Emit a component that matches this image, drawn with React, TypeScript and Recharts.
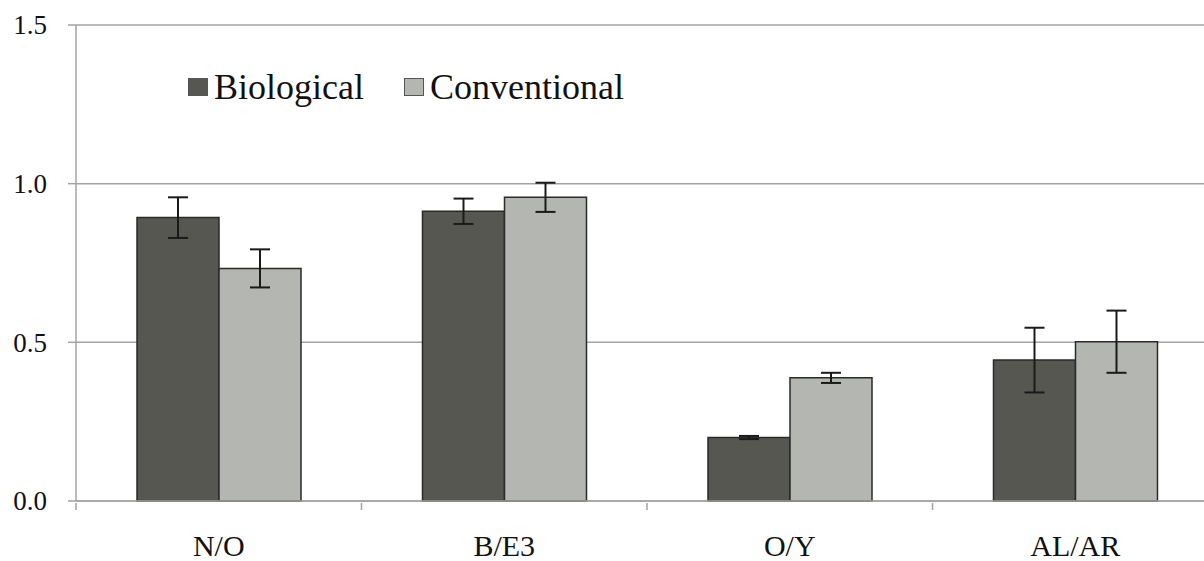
import React from 'react';
import {
  ComposedChart,
  Bar,
  ErrorBar,
  XAxis,
  YAxis,
  CartesianGrid,
} from 'recharts';

const categories = ['N/O', 'B/E3', 'O/Y', 'AL/AR'];
const biological = [0.893, 0.913, 0.2, 0.444];
const biologicalErr = [0.064, 0.04, 0.005, 0.102];
const conventional = [0.733, 0.957, 0.388, 0.502];
const conventionalErr = [0.06, 0.046, 0.016, 0.098];
const yTicks = [0, 0.5, 1.0, 1.5];

const seriesInfo = [
  { name: 'Biological', color: '#575752' },
  { name: 'Conventional', color: '#b4b6b2' },
];

const chartData = categories.map((cat, i) => ({
  cat,
  bio: biological[i],
  bioErr: biologicalErr[i],
  conv: conventional[i],
  convErr: conventionalErr[i],
}));

const FONT = 'Liberation Serif';
const AXIS = '#a3a3a3';

function CategoryTick(props: any) {
  const { x, y, payload } = props;
  const off = payload.offset || 0;
  return (
    <g>
      <line x1={x - off} y1={y - 6} x2={x - off} y2={y + 1} stroke={AXIS} strokeWidth={1.5} />
      <text
        x={x}
        y={y + 26}
        dy="0.71em"
        textAnchor="middle"
        fill="#111"
        style={{ fontFamily: FONT, fontSize: 30 }}
      >
        {payload.value}
      </text>
    </g>
  );
}

function ValueTick(props: any) {
  const { x, y, payload } = props;
  return (
    <text
      x={x}
      y={y}
      dy="0.35em"
      textAnchor="end"
      fill="#111"
      style={{ fontFamily: FONT, fontSize: 27 }}
    >
      {Number(payload.value).toFixed(1)}
    </text>
  );
}

function LegendBox() {
  return (
    <div
      style={{
        position: 'absolute',
        left: 188,
        top: 69,
        display: 'flex',
        alignItems: 'center',
        fontFamily: FONT,
        fontSize: 36,
        color: '#111',
      }}
    >
      {seriesInfo.map((s, i) => (
        <div key={s.name} style={{ display: 'flex', alignItems: 'center', marginRight: i === 0 ? 40 : 0 }}>
          <span
            style={{
              display: 'inline-block',
              width: 20,
              height: 18,
              background: s.color,
              border: '1px solid #555',
              marginRight: 6,
              boxSizing: 'border-box',
            }}
          />
          <span style={{ lineHeight: 1 }}>{s.name}</span>
        </div>
      ))}
    </div>
  );
}

export default function App() {
  return (
    <div
      style={{
        position: 'fixed',
        left: 0,
        top: 0,
        width: 1204,
        height: 561,
        overflow: 'hidden',
        background: '#fff',
      }}
    >
      <ComposedChart
        width={1230}
        height={561}
        data={chartData}
        margin={{ top: 25, right: 12, bottom: 0, left: 0 }}
        barCategoryGap={61}
        barGap={0}
      >
        <CartesianGrid vertical={false} stroke={AXIS} strokeWidth={1.5} />
        <XAxis
          dataKey="cat"
          height={60}
          axisLine={{ stroke: AXIS, strokeWidth: 1.5 }}
          tickLine={false}
          tick={<CategoryTick />}
          interval={0}
        />
        <YAxis
          width={76}
          domain={[0, 1.5]}
          ticks={yTicks}
          axisLine={{ stroke: AXIS, strokeWidth: 1.5 }}
          tickLine={{ stroke: AXIS, strokeWidth: 1.5 }}
          tickSize={8}
          tickMargin={21}
          tick={<ValueTick />}
        />
        <Bar dataKey="bio" name="Biological" fill={seriesInfo[0].color} stroke="#2a2a2a" strokeWidth={1.5} isAnimationActive={false}>
          <ErrorBar dataKey="bioErr" width={10} stroke="#1a1a1a" strokeWidth={2} />
        </Bar>
        <Bar dataKey="conv" name="Conventional" fill={seriesInfo[1].color} stroke="#2a2a2a" strokeWidth={1.5} isAnimationActive={false}>
          <ErrorBar dataKey="convErr" width={10} stroke="#1a1a1a" strokeWidth={2} />
        </Bar>
      </ComposedChart>
      <LegendBox />
    </div>
  );
}
